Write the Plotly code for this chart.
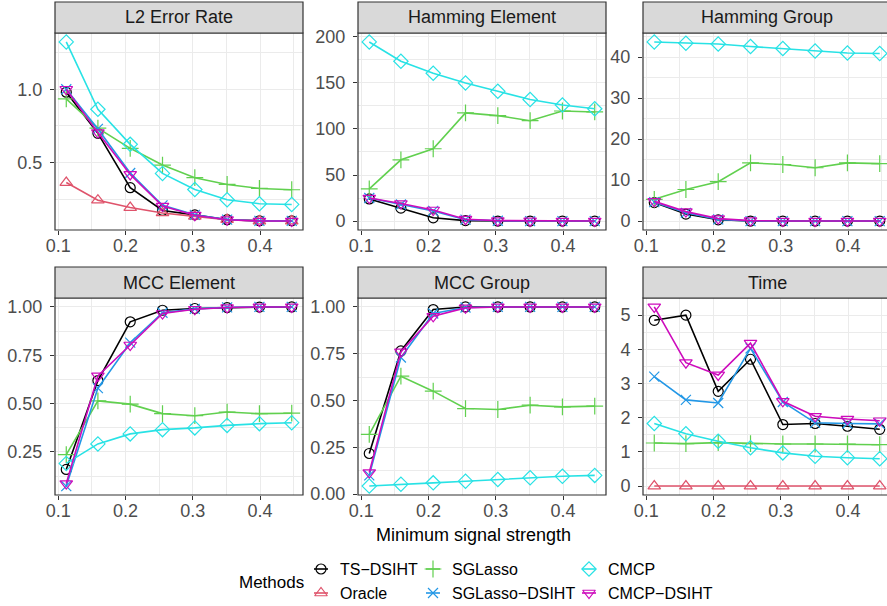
import plotly.graph_objects as go

W, H = 887, 606

x = [0.112, 0.159, 0.207, 0.255, 0.303, 0.351, 0.399, 0.447]

methods = ["TS−DSIHT", "Oracle", "SGLasso", "SGLasso−DSIHT", "CMCP", "CMCP−DSIHT"]
colors = ["#000000", "#DF536B", "#61D04F", "#2297E6", "#28E2E5", "#CD0BBC"]
symbols = ["circle-open", "triangle-up-open", "cross-thin-open", "x-thin-open", "diamond-open", "triangle-down-open"]
msizes = [10, 11, 12, 10, 11, 11]

panels = ["L2 Error Rate", "Hamming Element", "Hamming Group", "MCC Element", "MCC Group", "Time"]

l2 = {
    "TS−DSIHT": [0.98, 0.70, 0.33, 0.175, 0.145, 0.112, 0.105, 0.105],
    "Oracle": [0.365, 0.245, 0.195, 0.158, 0.135, 0.113, 0.103, 0.103],
    "SGLasso": [0.935, 0.735, 0.598, 0.484, 0.398, 0.352, 0.325, 0.316],
    "SGLasso−DSIHT": [1.0, 0.73, 0.43, 0.21, 0.145, 0.113, 0.104, 0.104],
    "CMCP": [1.322, 0.864, 0.625, 0.427, 0.318, 0.248, 0.221, 0.216],
    "CMCP−DSIHT": [1.0, 0.705, 0.42, 0.205, 0.143, 0.112, 0.103, 0.103],
}
ham_el = {
    "TS−DSIHT": [24, 14, 3.5, 0.5, 0, 0, 0, 0],
    "SGLasso": [35, 66.5, 78.5, 117.5, 114.5, 109, 119.5, 118.5],
    "SGLasso−DSIHT": [25, 18, 11, 1.5, 0.3, 0, 0, 0],
    "CMCP": [194.5, 173.5, 160.5, 150, 141, 132, 126, 122],
    "CMCP−DSIHT": [25, 19, 12, 2, 0.5, 0.1, 0, 0],
}
ham_gr = {
    "TS−DSIHT": [4.5, 1.7, 0.3, 0, 0, 0, 0, 0],
    "SGLasso": [5.3, 7.7, 9.6, 14.2, 13.8, 13.0, 14.2, 14.0],
    "SGLasso−DSIHT": [4.6, 2.0, 0.4, 0, 0, 0, 0, 0],
    "CMCP": [43.7, 43.4, 43.2, 42.6, 42.1, 41.5, 41.0, 40.9],
    "CMCP−DSIHT": [4.8, 2.3, 0.6, 0.1, 0, 0, 0, 0],
}
mcc_el = {
    "TS−DSIHT": [0.159, 0.619, 0.923, 0.983, 0.992, 0.997, 0.999, 1.0],
    "SGLasso": [0.236, 0.514, 0.497, 0.448, 0.437, 0.456, 0.448, 0.45],
    "SGLasso−DSIHT": [0.073, 0.58, 0.815, 0.97, 0.99, 0.998, 1.0, 1.0],
    "CMCP": [0.19, 0.291, 0.343, 0.365, 0.374, 0.387, 0.396, 0.401],
    "CMCP−DSIHT": [0.086, 0.643, 0.803, 0.966, 0.988, 0.997, 1.0, 1.0],
}
mcc_gr = {
    "TS−DSIHT": [0.217, 0.765, 0.986, 1.0, 1.0, 1.0, 1.0, 1.0],
    "SGLasso": [0.319, 0.63, 0.55, 0.457, 0.452, 0.475, 0.466, 0.47],
    "SGLasso−DSIHT": [0.10, 0.73, 0.965, 0.997, 1.0, 1.0, 1.0, 1.0],
    "CMCP": [0.043, 0.053, 0.06, 0.069, 0.078, 0.087, 0.095, 0.10],
    "CMCP−DSIHT": [0.115, 0.76, 0.95, 0.995, 1.0, 1.0, 1.0, 1.0],
}
time_ = {
    "TS−DSIHT": [4.85, 5.0, 2.77, 3.71, 1.8, 1.83, 1.75, 1.66],
    "Oracle": [0, 0, 0, 0, 0, 0, 0, 0],
    "SGLasso": [1.26, 1.24, 1.27, 1.24, 1.23, 1.23, 1.23, 1.21],
    "SGLasso−DSIHT": [3.2, 2.52, 2.43, 4.03, 2.46, 1.85, 1.83, 1.82],
    "CMCP": [1.83, 1.53, 1.31, 1.12, 0.97, 0.87, 0.83, 0.80],
    "CMCP−DSIHT": [5.24, 3.61, 3.25, 4.18, 2.48, 2.04, 1.96, 1.91],
}
data = [l2, ham_el, ham_gr, mcc_el, mcc_gr, time_]

x_ticks = [0.1, 0.2, 0.3, 0.4]
y_dtick = [0.5, 50, 10, 0.25, 0.25, 1]
y_fmt = [".1f", "d", "d", ".2f", ".2f", "d"]

# ---- layout geometry (pixels) ----
col_left = [55, 358, 643]
panel_w = 248
row_top = [33, 298]
panel_h = 197
strip_h = 31

# legend geometry (pixels): key centres, column-major like ggplot
leg_key_x = [321, 321, 433, 433, 589, 589]
leg_key_y = [569, 593, 569, 593, 569, 593]
leg_text_dx = 17
leg_key_half = 7

FONT = "Liberation Sans, Arial, Helvetica, sans-serif"
GRID = "#EBEBEB"
BORDER = "#333333"
TICKFONT = dict(family=FONT, size=18, color="#4D4D4D")

fig = go.Figure()

xmin, xmax = min(x), max(x)
xspan = xmax - xmin
xr = [xmin - 0.05 * xspan, xmax + 0.05 * xspan]

shapes = []
annotations = []
layout_axes = {}

for i in range(6):
    r, c = divmod(i, 3)
    left = col_left[c]
    right_full = left + panel_w
    right = min(right_full, W)
    top = row_top[r]
    bot = top + panel_h
    frac = (right - left) / panel_w
    xrange_i = [xr[0], xr[0] + (xr[1] - xr[0]) * frac]

    vals = [v for m in methods if m in data[i] for v in data[i][m]]
    vmin, vmax = min(vals), max(vals)
    span = vmax - vmin
    yr = [vmin - 0.05 * span, vmax + 0.05 * span]

    sfx = "" if i == 0 else str(i + 1)
    layout_axes["xaxis" + sfx] = dict(
        domain=[left / W, right / W], anchor="y" + sfx, range=xrange_i, automargin=False,
        tickvals=x_ticks, ticktext=[f"{t:.1f}" for t in x_ticks],
        ticks="outside", ticklen=4, tickcolor=BORDER, tickwidth=1,
        showgrid=True, gridcolor=GRID, gridwidth=1, zeroline=False, showline=False,
        minor=dict(tickvals=[0.15, 0.25, 0.35, 0.45], showgrid=True, gridcolor=GRID, gridwidth=0.6, ticks=""),
        tickfont=TICKFONT, ticklabelstandoff=-5,
        fixedrange=True,
    )
    layout_axes["yaxis" + sfx] = dict(
        domain=[1 - bot / H, 1 - top / H], anchor="x" + sfx, range=yr, automargin=False,
        dtick=y_dtick[i], tick0=0, tickformat=y_fmt[i],
        ticks="outside", ticklen=4, tickcolor=BORDER, tickwidth=1,
        showgrid=True, gridcolor=GRID, gridwidth=1, zeroline=False, showline=False,
        minor=dict(dtick=y_dtick[i] / 2, tick0=0, showgrid=True, gridcolor=GRID, gridwidth=0.6, ticks=""),
        tickfont=TICKFONT, ticklabelstandoff=4,
        fixedrange=True,
    )

    shapes.append(dict(type="rect", xref="paper", yref="paper",
                       x0=left / W, x1=right_full / W, y0=1 - bot / H, y1=1 - top / H,
                       line=dict(color=BORDER, width=1.2), fillcolor="rgba(0,0,0,0)", layer="above"))
    shapes.append(dict(type="rect", xref="paper", yref="paper",
                       x0=left / W, x1=right_full / W, y0=1 - top / H, y1=1 - (top - strip_h) / H,
                       line=dict(color=BORDER, width=1.2), fillcolor="#D9D9D9", layer="above"))
    annotations.append(dict(text=panels[i], xref="paper", yref="paper",
                            x=(left + panel_w / 2) / W, y=1 - (top - strip_h / 2) / H,
                            xanchor="center", yanchor="middle", showarrow=False,
                            font=dict(family=FONT, size=18, color="#1A1A1A")))

    for k, m in enumerate(methods):
        if m not in data[i]:
            continue
        fig.add_trace(go.Scatter(
            x=x, y=data[i][m], xaxis="x" + sfx, yaxis="y" + sfx,
            mode="lines+markers", name=m,
            line=dict(color=colors[k], width=1.6),
            marker=dict(symbol=symbols[k], size=msizes[k], color=colors[k],
                        line=dict(color=colors[k], width=1.2)),
            showlegend=False, hoverinfo="x+y+name",
        ))

# ---- manual legend on a hidden pixel-space axis ----
layout_axes["xaxis7"] = dict(domain=[0, 1], range=[0, W], visible=False, anchor="y7",
                             fixedrange=True, automargin=False)
layout_axes["yaxis7"] = dict(domain=[0, 1], range=[H, 0], visible=False, anchor="x7",
                             fixedrange=True, automargin=False)
for k, m in enumerate(methods):
    kx, ky = leg_key_x[k], leg_key_y[k]
    fig.add_trace(go.Scatter(
        x=[kx - leg_key_half, kx, kx + leg_key_half], y=[ky, ky, ky],
        xaxis="x7", yaxis="y7", mode="lines", line=dict(color=colors[k], width=1.6),
        showlegend=False, hoverinfo="skip",
    ))
    fig.add_trace(go.Scatter(
        x=[kx], y=[ky], xaxis="x7", yaxis="y7", mode="markers",
        marker=dict(symbol=symbols[k], size=msizes[k], color=colors[k],
                    line=dict(color=colors[k], width=1.2)),
        showlegend=False, hoverinfo="skip",
    ))
    annotations.append(dict(text=m, xref="paper", yref="paper",
                            x=(kx + leg_text_dx) / W, y=1 - ky / H, xanchor="left", yanchor="middle",
                            showarrow=False, font=dict(family=FONT, size=16, color="#000000")))

annotations.append(dict(text="Minimum signal strength", xref="paper", yref="paper",
                        x=(55 + 891) / 2 / W, y=1 - 535 / H, xanchor="center", yanchor="middle",
                        showarrow=False, font=dict(family=FONT, size=18, color="#000000")))
annotations.append(dict(text="Methods", xref="paper", yref="paper",
                        x=237 / W, y=1 - 582 / H, xanchor="left", yanchor="middle",
                        showarrow=False, font=dict(family=FONT, size=17, color="#000000")))

fig.update_layout(
    width=W, height=H, margin=dict(l=0, r=0, t=0, b=0, autoexpand=False),
    paper_bgcolor="white", plot_bgcolor="rgba(0,0,0,0)",
    shapes=shapes, annotations=annotations, showlegend=False,
    **layout_axes,
)

fig.write_html("out.html")
